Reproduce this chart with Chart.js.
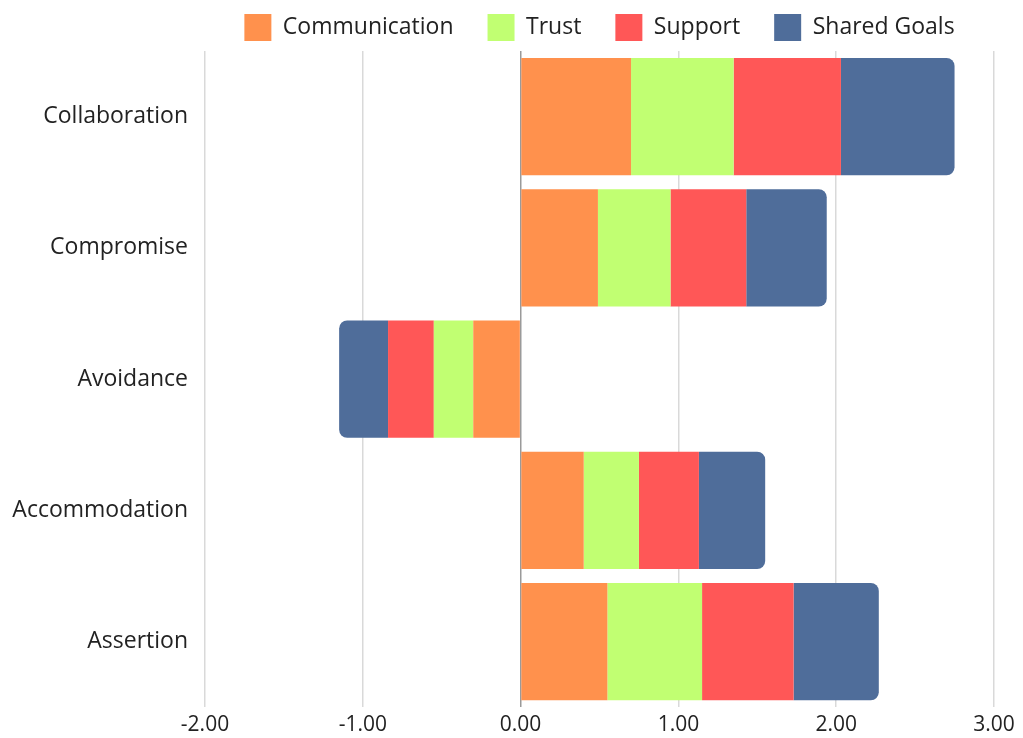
<!DOCTYPE html>
<html>
<head>
<meta charset="utf-8">
<script src="https://cdn.jsdelivr.net/npm/chart.js@4"></script>
<style>
  body { margin: 0; background: #ffffff; }
  #wrap { width: 1023px; height: 738px; }
</style>
</head>
<body>
<div id="wrap"><canvas id="conflictChart" width="1023" height="738"></canvas></div>
<script>
const categories = ["Collaboration", "Compromise", "Avoidance", "Accommodation", "Assertion"];
const communication = [0.70, 0.49, -0.30, 0.40, 0.55];
const trust = [0.65, 0.46, -0.25, 0.35, 0.60];
const support = [0.68, 0.48, -0.29, 0.38, 0.58];
const sharedGoals = [0.72, 0.51, -0.31, 0.42, 0.54];
const tickValues = [-2, -1, 0, 1, 2, 3];

const seriesNames = ["Communication", "Trust", "Support", "Shared Goals"];
const seriesColors = ["#FF914D", "#C1FF72", "#FF5757", "#4F6D9A"];

function makeDataset(index, values) {
  return {
    label: seriesNames[index],
    data: values,
    backgroundColor: seriesColors[index],
    borderRadius: 8,
    borderSkipped: "start",
    barPercentage: 0.894,
    categoryPercentage: 1.0,
  };
}

const ctx = document.getElementById("conflictChart").getContext("2d");

const chart = new Chart(ctx, {
  type: "bar",
  data: {
    labels: categories,
    datasets: [
      makeDataset(0, communication),
      makeDataset(1, trust),
      makeDataset(2, support),
      makeDataset(3, sharedGoals),
    ],
  },
  options: {
    indexAxis: "y",
    responsive: false,
    animation: false,
    layout: {
      padding: { top: -20, right: 29, bottom: -9, left: 0 },
    },
    plugins: {
      legend: {
        position: "top",
        fullSize: false,
        labels: {
          boxWidth: 27,
          boxHeight: 27,
          padding: 34,
          color: "#222222",
          font: { family: "Open Sans", size: 23, lineHeight: 1.45 },
        },
      },
      tooltip: { enabled: false },
    },
    scales: {
      x: {
        stacked: true,
        min: -2,
        max: 3,
        afterBuildTicks: (scale) => {
          scale.ticks = tickValues.map((v) => ({ value: v }));
        },
        border: { display: false },
        grid: {
          drawTicks: false,
          lineWidth: 1.5,
          color: (c) => (c.tick && c.tick.value === 0 ? "#9a9a9a" : "#d9d9d9"),
        },
        ticks: {
          padding: 7,
          color: "#222222",
          font: { family: "Open Sans", size: 21, lineHeight: 1.0 },
          callback: (v) => Number(v).toFixed(2),
        },
      },
      y: {
        stacked: true,
        border: { display: false },
        grid: { display: false, drawTicks: false },
        afterFit: (scale) => {
          scale.width = 205;
        },
        ticks: {
          padding: 17,
          color: "#222222",
          font: { family: "Open Sans", size: 23 },
        },
      },
    },
  },
});
</script>
</body>
</html>
